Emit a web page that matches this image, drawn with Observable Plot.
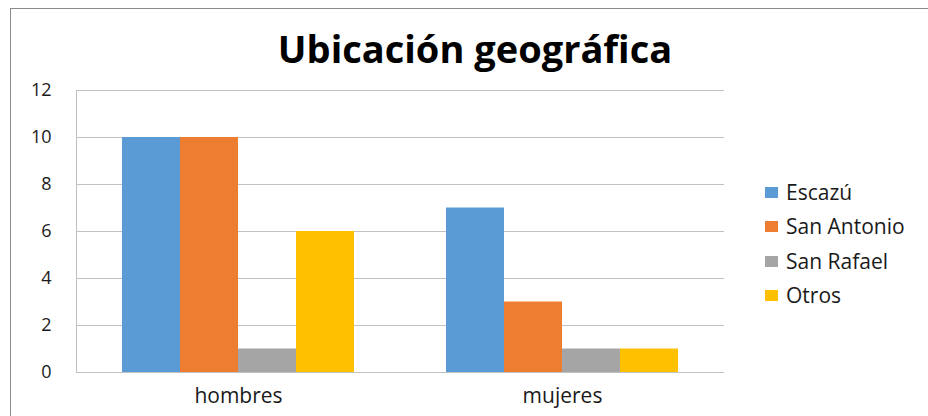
<!DOCTYPE html>
<html>
<head>
<meta charset="utf-8">
<script src="https://cdn.jsdelivr.net/npm/d3@7"></script>
<script src="https://cdn.jsdelivr.net/npm/@observablehq/plot@0.6"></script>
<style>
  html, body { margin: 0; padding: 0; background: #fff; }
  #wrap { position: relative; width: 928px; height: 416px; overflow: hidden; font-family: "Open Sans", sans-serif; }
  #border { position: absolute; left: 10px; top: 8px; width: 960px; height: 440px; border: 1.5px solid #8c8c8c; box-sizing: border-box; }
  #title { position: absolute; left: 0; top: 29px; width: 950px; text-align: center; font-weight: bold; font-size: 38px; line-height: 38px; color: #000; margin: 0; }
  #chart { position: absolute; left: 0; top: 70px; }
  #legend { position: absolute; left: 765px; top: 0; }
  .row { position: absolute; left: 0; height: 28px; display: flex; align-items: center; white-space: nowrap; font-size: 21px; color: #1a1a1a; }
  .sw { width: 13px; height: 11px; margin-right: 8px; }
</style>
</head>
<body>
<div id="wrap">
  <div id="border"></div>
  <h1 id="title">Ubicación geográfica</h1>
  <div id="chart"></div>
  <div id="legend"></div>
</div>
<script>
const groups = ["hombres", "mujeres"];
const series = ["Escazú", "San Antonio", "San Rafael", "Otros"];
const escazu = [10, 7];
const sanAntonio = [10, 3];
const sanRafael = [1, 1];
const otros = [6, 1];
const colors = ["#5B9BD5", "#ED7D31", "#A5A5A5", "#FFC000"];
const yTicks = [0, 2, 4, 6, 8, 10, 12];

const valuesBySeries = [escazu, sanAntonio, sanRafael, otros];
const data = groups.flatMap((g, i) => series.map((s, j) => ({group: g, serie: s, value: valuesBySeries[j][i]})));

const chart = Plot.plot({
  width: 740,
  height: 346,
  marginTop: 20,
  marginBottom: 44,
  marginLeft: 76,
  marginRight: 16,
  style: {fontFamily: "Open Sans, sans-serif", fontSize: "18px", color: "#1a1a1a", background: "transparent", overflow: "visible"},
  fx: {domain: groups, padding: 0, label: null},
  x: {domain: series, paddingInner: 0, paddingOuter: 0.76, axis: null},
  y: {domain: [0, 12]},
  color: {domain: series, range: colors},
  marks: [
    Plot.ruleY(yTicks, {stroke: "#c0c0c0", strokeWidth: 1}),
    Plot.barY(data, {fx: "group", x: "serie", y: "value", fill: "serie"}),
    Plot.axisY({ticks: yTicks, tickSize: 0, tickPadding: 25, label: null, fontSize: 18}),
    Plot.axisFx({anchor: "bottom", tickSize: 0, tickPadding: 16, label: null, fontSize: 21}),
    Plot.frame({anchor: "left", stroke: "#c0c0c0", facetAnchor: "left"})
  ]
});
document.getElementById("chart").appendChild(chart);

const legend = document.getElementById("legend");
const centers = [192, 226, 261, 295];
series.forEach((s, i) => {
  const row = document.createElement("div");
  row.className = "row";
  row.style.top = (centers[i] - 14) + "px";
  const sw = document.createElement("div");
  sw.className = "sw";
  sw.style.background = colors[i];
  const t = document.createElement("span");
  t.textContent = s;
  row.appendChild(sw);
  row.appendChild(t);
  legend.appendChild(row);
});
</script>
</body>
</html>
